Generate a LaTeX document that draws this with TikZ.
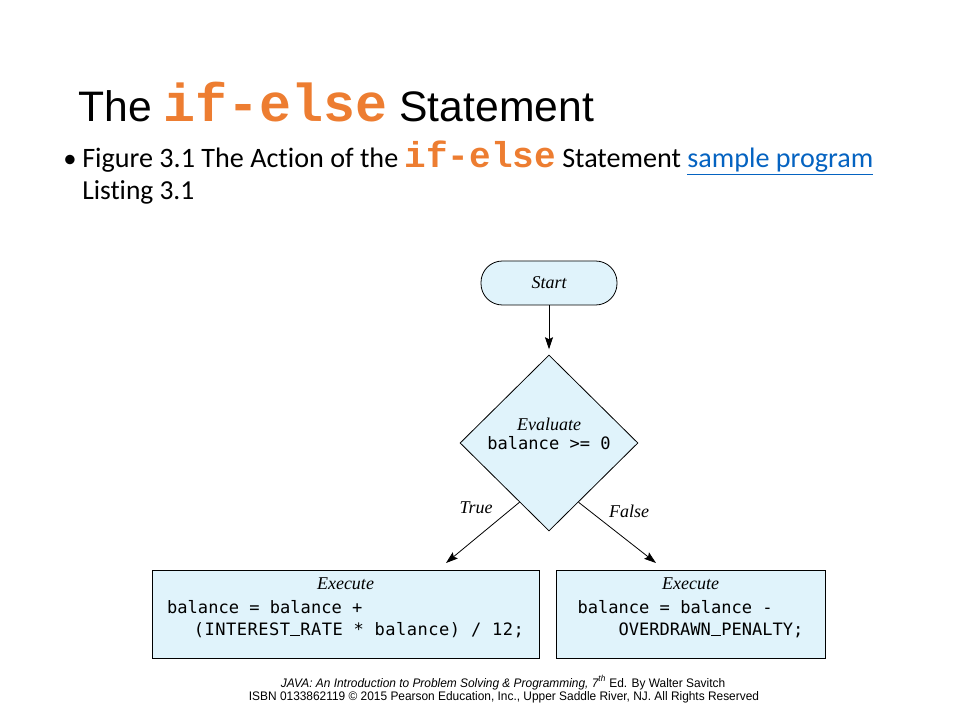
\documentclass[tikz,border=0pt]{standalone}
\usepackage{fontspec}
\setmainfont{Liberation Serif}
\newfontfamily\arialfont{Liberation Sans}
\newfontfamily\narrowfont[FakeStretch=0.96]{Liberation Sans}
\newfontfamily\calibrifont[Ligatures=CommonOff]{Carlito}
\newfontfamily\courierfont{Liberation Mono}
\newfontfamily\codefont{DejaVu Sans Mono}
\usetikzlibrary{shapes.geometric,positioning,calc,arrows.meta}
\definecolor{boxblue}{RGB}{224,243,251}
\definecolor{keyorange}{RGB}{237,125,49}
\definecolor{linkblue}{RGB}{5,99,193}
\newcommand{\kw}[1]{\textcolor{keyorange}{\courierfont\bfseries #1}}
% lift the text of a node without changing its size
\newcommand{\lift}[2]{\raisebox{#1}[\height][\depth]{#2}}
% underscore sitting on the baseline, one code cell wide
\newcommand{\us}{\makebox[0.602em][c]{\rule[-0.6pt]{0.56em}{0.8pt}}}
\tikzset{
  flowbox/.style={draw, fill=boxblue, line width=0.6pt},
  flowarrow/.style={arrows=-{Stealth[length=9pt, width=6pt, inset=1.5pt]}, line width=0.6pt},
  caption/.style={font=\rmfamily\itshape\fontsize{13.5}{16}\selectfont, inner sep=0},
  textline/.style={anchor=base west, inner sep=0}
}

\begin{document}
\begin{tikzpicture}[x=0.75pt, y=-0.75pt]
\useasboundingbox (0,0) rectangle (960,720);
% slide heading and bullet
\node  (title)[textline, font=\arialfont\fontsize{32}{38}\selectfont] at (78,122) {The {\fontsize{40}{40}\selectfont\kw{if-else}} Statement};
\node  (dot)[textline, font=\calibrifont\fontsize{20}{24}\selectfont] at (63,168) {•};
\node  (line1)[textline, font=\calibrifont\fontsize{21.1}{24}\selectfont] at (82,168) {Figure 3.1 The Action of the {\fontsize{27}{27}\selectfont\kw{if-else}} Statement \textcolor{linkblue}{\underline{sample program}}};
\node  (line2)[textline, font=\calibrifont\fontsize{20.6}{24}\selectfont] at (82,200) {Listing 3.1};
% flowchart
\node  (start)[flowbox, rounded corners=16pt, minimum width=102pt, minimum height=33pt, font=\rmfamily\itshape\fontsize{13.5}{16}\selectfont] at (549,283) {Start};
\node  (test)[flowbox, diamond, aspect=1, inner sep=0, minimum width=133.5pt, minimum height=132pt] at (549,443) {\lift{5pt}{\begin{tabular}{@{}c@{}}{\itshape\fontsize{13.5}{16}\selectfont Evaluate}\\[0.5pt]{\codefont\fontsize{12.8}{16}\selectfont balance >= 0}\end{tabular}}};
\node  (thenbox)[flowbox, minimum width=290.25pt, minimum height=66pt, inner sep=0, font=\codefont\fontsize{12.8}{16.5}\selectfont] at (345.5,614) {\lift{4.5pt}{\begin{tabular}{@{}l@{}}\multicolumn{1}{@{}c@{}}{\rmfamily\itshape\fontsize{13.5}{16.5}\selectfont Execute}\\[1.5pt]balance = balance +\\\hspace*{20pt}{\addfontfeature{LetterSpace=2.8}(INTEREST\us RATE * balance) / 12;}\end{tabular}}};
\node  (elsebox)[flowbox, minimum width=201.75pt, minimum height=66pt, inner sep=0, font=\codefont\fontsize{12.8}{16.5}\selectfont] at (690.5,614) {\lift{4.5pt}{\begin{tabular}{@{}l@{}}\multicolumn{1}{@{}c@{}}{\rmfamily\itshape\fontsize{13.5}{16.5}\selectfont Execute}\\[1.5pt]balance = balance -\\\hspace*{30.75pt}OVERDRAWN\us PENALTY;\end{tabular}}};
\node  (true)[caption] at (476,508) {True};
\node  (false)[caption] at (629,511) {False};
\coordinate (truetip) at (446,563);
\coordinate (falsetip) at (656,563);
\draw[flowarrow, shorten >=4pt] (start) -- (test);
\draw[flowarrow] ($(test.west)!0.67!(test.south)$) -- (truetip);
\draw[flowarrow] ($(test.east)!0.67!(test.south)$) -- (falsetip);
% footer
\node  (credit1)[anchor=base, inner sep=0, font=\narrowfont\fontsize{9.3}{11}\selectfont] at (503,687) {{\itshape JAVA: An Introduction to Problem Solving \& Programming, 7\textsuperscript{th}} Ed. By Walter Savitch};
\node  (credit2)[anchor=base, inner sep=0, font=\narrowfont\fontsize{9.3}{11}\selectfont] at (504,700) {ISBN 0133862119 © 2015 Pearson Education, Inc., Upper Saddle River, NJ. All Rights Reserved};
\end{tikzpicture}
\end{document}
